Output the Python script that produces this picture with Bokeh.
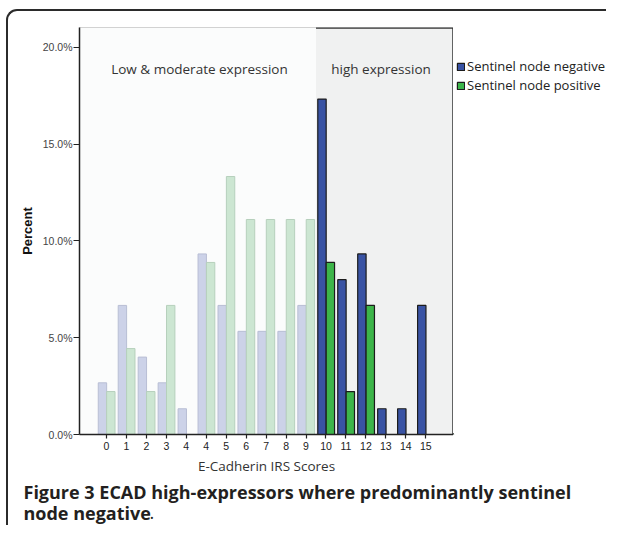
from bokeh.plotting import figure
from bokeh.models import (ColumnDataSource, Range1d, FixedTicker, PrintfTickFormatter,
                          BoxAnnotation, Label, Legend, LegendItem, InlineStyleSheet)
from bokeh.layouts import column, row
from bokeh.embed import file_html
from bokeh.resources import INLINE

# ---------------- data ----------------
tick_labels = ["0", "1", "2", "3", "4", "4", "5", "6", "7", "8", "9",
               "10", "11", "12", "13", "14", "15"]
negative_pct = [2.67, 6.67, 4.00, 2.67, 1.33, 9.33, 6.67, 5.33, 5.33, 5.33, 6.67,
                17.33, 8.00, 9.33, 1.33, 1.33, 6.67]
positive_pct = [2.22, 4.44, 2.22, 6.67, 0.00, 8.89, 13.33, 11.11, 11.11, 11.11, 11.11,
                8.89, 2.22, 6.67, 0.00, 0.00, 0.00]
series_names = ["Sentinel node negative", "Sentinel node positive"]
region_names = ["Low & moderate expression", "high expression"]
high_start = 11          # first category (label "10") of the high-expression group
y_ticks = [0, 5, 10, 15, 20]
x_title = "E-Cadherin IRS Scores"
y_title = "Percent"
caption_line1 = "Figure 3 ECAD high-expressors where predominantly sentinel"
caption_line2 = "node negative"

# ---------------- layout constants ----------------
W, H = 606, 525
FL, FT, FR, FB = 79, 27, 453, 434   # chart frame edges in page px
CH = 478                            # height of chart part
x_lo, x_hi = -1.35, 17.39
y_lo, y_hi = 0.0, 21.03
boundary = high_start - 0.5

idx = list(range(len(tick_labels)))

# ---------------- chart ----------------
p = figure(width=FR, height=CH, x_range=Range1d(x_lo, x_hi), y_range=Range1d(y_lo, y_hi),
           output_backend="svg", toolbar_location=None,
           min_border_left=FL, min_border_right=0,
           min_border_top=FT, min_border_bottom=CH - FB)
p.background_fill_color = "#fbfcfc"
p.border_fill_color = "white"
p.outline_line_color = "#d2d2d2"
p.outline_line_width = 1
p.grid.visible = False

p.add_layout(BoxAnnotation(left=boundary, fill_color="#f0f1f1", fill_alpha=1.0,
                           line_color=None, level="underlay"))
p.line(x=[boundary, x_hi, x_hi], y=[y_hi, y_hi, y_lo], line_color="#333333", line_width=2.5)

styles = {
    0: dict(off=-0.2, faded=("#ccd2e8", "#b8bed4"), bold=("#3953a4", "#1c1c1c")),
    1: dict(off=0.22, faded=("#cce6d2", "#b6d0bc"), bold=("#3db54a", "#1c1c1c")),
}
for s, vals in enumerate([negative_pct, positive_pct]):
    st = styles[s]
    for high in (False, True):
        xs = [i + st["off"] for i in idx if (i >= high_start) == high and vals[i] > 0]
        ys = [vals[i] for i in idx if (i >= high_start) == high and vals[i] > 0]
        fill, line = st["bold"] if high else st["faded"]
        src = ColumnDataSource(dict(x=xs, top=ys))
        p.vbar(x="x", top="top", bottom=0, width=0.42, source=src,
               fill_color=fill, line_color=line, line_width=1.2 if high else 1)

p.xaxis.ticker = FixedTicker(ticks=idx)
p.xaxis.major_label_overrides = {i: lab for i, lab in enumerate(tick_labels)}
p.xaxis.minor_tick_line_color = None
p.xaxis.major_tick_in = 0
p.xaxis.major_tick_out = 4
p.xaxis.major_label_standoff = 3
p.xaxis.major_label_text_font = "Liberation Sans"
p.xaxis.major_label_text_font_size = "10.5px"
p.xaxis.major_label_text_color = "#222222"
p.xaxis.axis_label = x_title
p.xaxis.axis_label_text_font = "Open Sans"
p.xaxis.axis_label_text_font_style = "normal"
p.xaxis.axis_label_text_font_size = "13.5px"
p.xaxis.axis_label_text_color = "#333333"
p.xaxis.axis_label_standoff = 4

p.yaxis.ticker = FixedTicker(ticks=y_ticks)
p.yaxis.formatter = PrintfTickFormatter(format="%.1f%%")
p.yaxis.minor_tick_line_color = None
p.yaxis.major_tick_in = 0
p.yaxis.major_tick_out = 6
p.yaxis.major_label_standoff = 1
p.yaxis.major_label_text_font = "Liberation Sans"
p.yaxis.major_label_text_font_size = "10.5px"
p.yaxis.major_label_text_color = "#444444"
p.yaxis.axis_label = y_title
p.yaxis.axis_label_text_font = "Liberation Sans"
p.yaxis.axis_label_text_font_style = "bold"
p.yaxis.axis_label_text_font_size = "13px"
p.yaxis.axis_label_text_color = "#111111"
p.yaxis.axis_label_standoff = 5

for ax in (p.xaxis, p.yaxis):
    ax.axis_line_color = "#222222"
    ax.axis_line_width = 1.5
    ax.major_tick_line_color = "#222222"
    ax.major_tick_line_width = 1.2

p.add_layout(Label(x=4.66, y=18.9, text=region_names[0], text_align="center",
                   text_baseline="middle", text_font="Open Sans", text_font_size="13.5px",
                   text_color="#333333"))
p.add_layout(Label(x=13.76, y=18.9, text=region_names[1], text_align="center",
                   text_baseline="middle", text_font="Open Sans", text_font_size="13.5px",
                   text_color="#333333"))

# ---------------- legend panel ----------------
LW = W - FR
lg = figure(width=LW, height=CH, x_range=Range1d(0, LW), y_range=Range1d(0, CH),
            output_backend="svg", toolbar_location=None, min_border=0,
            x_axis_location=None, y_axis_location=None)
lg.grid.visible = False
lg.outline_line_color = None
lg.background_fill_color = "white"
# legend-key carriers (kept outside the visible range)
r_neg = lg.vbar(x=[-1000], top=[1], width=1, fill_color=styles[0]["bold"][0],
                line_color=styles[0]["bold"][1], line_width=1.2)
r_pos = lg.vbar(x=[-1000], top=[1], width=1, fill_color=styles[1]["bold"][0],
                line_color=styles[1]["bold"][1], line_width=1.2)
# the legend panel's frame is aligned with the chart frame (FT..FB)
legend = Legend(items=[LegendItem(label=series_names[0], renderers=[r_neg]),
                       LegendItem(label=series_names[1], renderers=[r_pos])],
                location=(3, FB - 61 - 33), glyph_width=9, glyph_height=9,
                label_standoff=2, label_height=16, spacing=1, padding=0, margin=0,
                border_line_color=None, background_fill_alpha=0,
                label_text_font="Open Sans", label_text_font_size="13px",
                label_text_color="#222222")
lg.add_layout(legend)

# ---------------- caption panel ----------------
CPH = H - CH
cp = figure(width=W, height=CPH, x_range=Range1d(0, W), y_range=Range1d(0, CPH),
            output_backend="svg", toolbar_location=None, min_border=0,
            x_axis_location=None, y_axis_location=None)
cp.grid.visible = False
cp.outline_line_color = None
cp.background_fill_color = "white"
shift = 6
cp.add_layout(Label(x=23, y=CPH - (497 - CH) + shift, text=caption_line1, text_font="Open Sans",
                    text_font_style="bold", text_font_size="18px", text_color="#231f20",
                    text_baseline="alphabetic"))
cp.add_layout(Label(x=23, y=CPH - (518 - CH) + shift, text=caption_line2, text_font="Open Sans",
                    text_font_style="bold", text_font_size="18px", text_color="#231f20",
                    text_baseline="alphabetic"))
cp.add_layout(Label(x=149, y=CPH - (518 - CH) + shift, text=".", text_font="Open Sans",
                    text_font_size="18px", text_color="#231f20",
                    text_baseline="alphabetic"))

frame_css = InlineStyleSheet(css="""
:host { position: relative; }
:host::after {
  content: ""; position: absolute; left: 6px; top: 9px; right: 0px; bottom: 0px;
  border-top: 2px solid #2b2b2b; border-left: 2px solid #2b2b2b;
  border-top-left-radius: 11px; pointer-events: none; z-index: 10;
}
""")

layout = column(row(p, lg, spacing=0), cp, spacing=0, stylesheets=[frame_css])

open("out.html", "w").write(file_html(layout, INLINE))
